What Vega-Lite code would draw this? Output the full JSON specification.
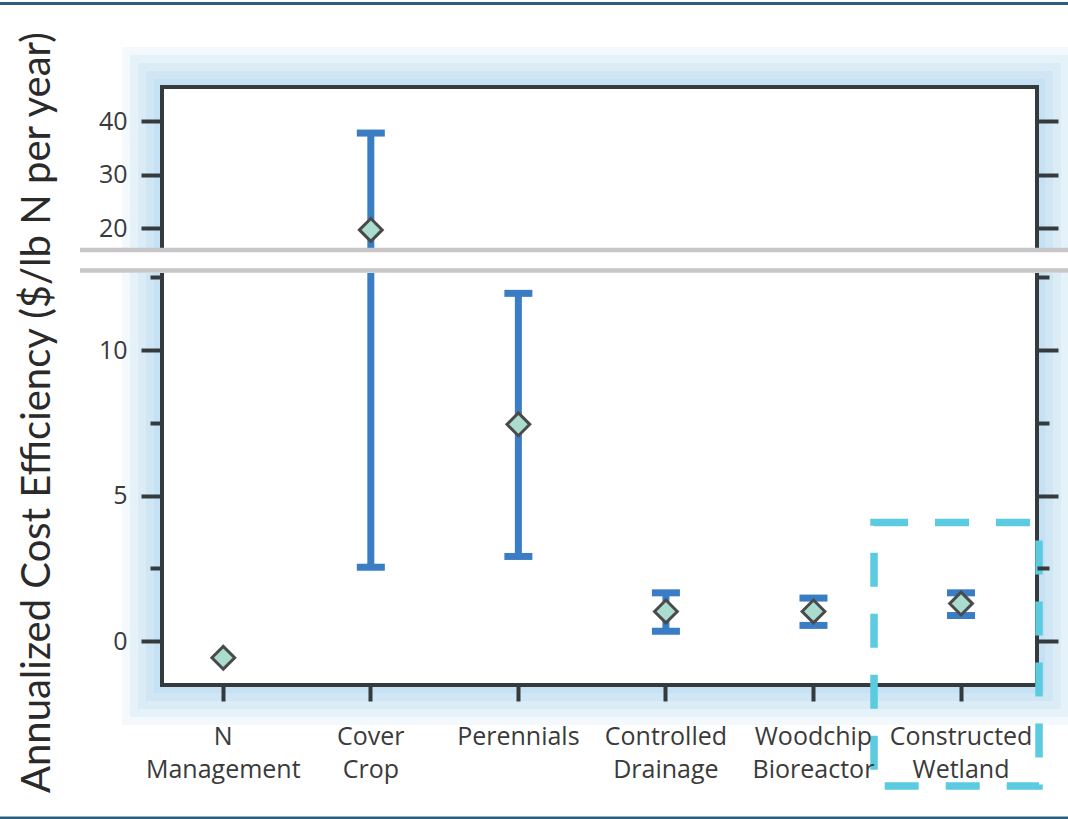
{
  "$schema": "https://vega.github.io/schema/vega-lite/v6.json",
  "width": 875,
  "height": 598,
  "autosize": {"type": "none"},
  "padding": {"left": 162, "top": 87, "right": 31, "bottom": 134},
  "background": "white",
  "config": {"view": {"stroke": null}},
  "datasets": {
    "practices": [
      {"practice": "N Management", "mean": -0.57},
      {"practice": "Cover Crop", "mean": 19.7, "low": 2.54, "high": 37.8},
      {"practice": "Perennials", "mean": 7.45, "low": 2.91, "high": 11.95},
      {"practice": "Controlled Drainage", "mean": 1.02, "low": 0.34, "high": 1.66},
      {"practice": "Woodchip Bioreactor", "mean": 1.02, "low": 0.54, "high": 1.48},
      {"practice": "Constructed Wetland", "mean": 1.29, "low": 0.88, "high": 1.66}
    ],
    "breakband": [{"top": 16.32, "bottom": 12.65}],
    "breaklines": [{"level": 15.94}, {"level": 12.735}],
    "borders": [{"level": 62.02}, {"level": -6.08}]
  },
  "resolve": {"axis": {"x": "independent", "y": "independent"}},
  "layer": [
    {"data": {"values": [{"part": "glow"}]}, "mark": {"type": "rect", "filled": false, "stroke": "#9fcdec", "strokeWidth": 80, "strokeOpacity": 0.12}, "encoding": {}},
    {"data": {"values": [{"part": "glow"}]}, "mark": {"type": "rect", "filled": false, "stroke": "#9fcdec", "strokeWidth": 64, "strokeOpacity": 0.14}, "encoding": {}},
    {"data": {"values": [{"part": "glow"}]}, "mark": {"type": "rect", "filled": false, "stroke": "#9fcdec", "strokeWidth": 48, "strokeOpacity": 0.16}, "encoding": {}},
    {"data": {"values": [{"part": "glow"}]}, "mark": {"type": "rect", "filled": false, "stroke": "#9fcdec", "strokeWidth": 32, "strokeOpacity": 0.18}, "encoding": {}},
    {"data": {"values": [{"part": "glow"}]}, "mark": {"type": "rect", "filled": false, "stroke": "#9fcdec", "strokeWidth": 16, "strokeOpacity": 0.2}, "encoding": {}},
    {"data": {"values": [{"part": "plot"}]}, "mark": {"type": "rect", "fill": "white", "strokeWidth": 0}, "encoding": {}},
    {"data": {"values": [{"part": "frame"}]}, "mark": {"type": "rect", "filled": false, "stroke": "#353b3d", "strokeWidth": 4}, "encoding": {}},
    {
      "data": {"name": "practices"},
      "mark": {"type": "rule", "color": "#3a7dc4", "strokeWidth": 7},
      "encoding": {
        "x": {"field": "practice", "type": "nominal", "sort": null, "axis": null,
          "scale": {"type": "band", "domain": ["N Management", "Cover Crop", "Perennials", "Controlled Drainage", "Woodchip Bioreactor", "Constructed Wetland"], "range": [-12.5, 872.8], "paddingInner": 0, "paddingOuter": 0}},
        "y": {"field": "low", "type": "quantitative",
          "scale": {"domain": [-1.507, 13.096, 14.075, 46.41], "range": [598, 173, 173, 0], "nice": false, "zero": false},
          "axis": {"orient": "right", "labels": false, "title": null, "domain": false, "grid": false, "zindex": 1,
            "values": [0, 2.5, 5, 7.5, 10, 12.5, 20, 30, 40],
            "tickColor": "#353b3d", "tickWidth": 4,
            "tickSize": {"condition": {"test": "datum.value % 5 === 0", "value": 21}, "value": 12}}},
        "y2": {"field": "high"}
      }
    },
    {
      "data": {"name": "practices"},
      "mark": {"type": "tick", "orient": "horizontal", "color": "#3a7dc4", "size": 28, "thickness": 7, "opacity": 1},
      "encoding": {
        "x": {"field": "practice", "type": "nominal", "sort": null, "axis": null,
          "scale": {"type": "band", "domain": ["N Management", "Cover Crop", "Perennials", "Controlled Drainage", "Woodchip Bioreactor", "Constructed Wetland"], "range": [-12.5, 872.8], "paddingInner": 0, "paddingOuter": 0}},
        "y": {"field": "low", "type": "quantitative", "axis": null,
          "scale": {"domain": [-1.507, 13.096, 14.075, 46.41], "range": [598, 173, 173, 0], "nice": false, "zero": false}}
      }
    },
    {
      "data": {"name": "practices"},
      "mark": {"type": "tick", "orient": "horizontal", "color": "#3a7dc4", "size": 28, "thickness": 7, "opacity": 1},
      "encoding": {
        "x": {"field": "practice", "type": "nominal", "sort": null, "axis": null,
          "scale": {"type": "band", "domain": ["N Management", "Cover Crop", "Perennials", "Controlled Drainage", "Woodchip Bioreactor", "Constructed Wetland"], "range": [-12.5, 872.8], "paddingInner": 0, "paddingOuter": 0}},
        "y": {"field": "high", "type": "quantitative", "axis": null,
          "scale": {"domain": [-1.507, 13.096, 14.075, 46.41], "range": [598, 173, 173, 0], "nice": false, "zero": false}}
      }
    },
    {
      "data": {"name": "practices"},
      "mark": {"type": "point", "shape": "diamond", "filled": true, "fill": "#aadcd0", "stroke": "#4a4a4a", "strokeWidth": 3, "size": 520, "opacity": 1},
      "encoding": {
        "x": {"field": "practice", "type": "nominal", "sort": null,
          "scale": {"type": "band", "domain": ["N Management", "Cover Crop", "Perennials", "Controlled Drainage", "Woodchip Bioreactor", "Constructed Wetland"], "range": [-12.5, 872.8], "paddingInner": 0, "paddingOuter": 0},
          "axis": {"orient": "bottom", "title": null, "domain": false, "grid": false, "zindex": 1, "labelAngle": 0,
            "tickColor": "#353b3d", "tickWidth": 4, "tickSize": 16, "labelPadding": 23,
            "labelFont": "Open Sans", "labelFontSize": 25, "labelColor": "#3a3a3a", "labelLineHeight": 33, "labelBaseline": "top",
            "labelExpr": "split(datum.label, ' ')"}},
        "y": {"field": "mean", "type": "quantitative",
          "scale": {"domain": [-1.507, 13.096, 14.075, 46.41], "range": [598, 173, 173, 0], "nice": false, "zero": false},
          "axis": {"orient": "left", "domain": false, "grid": false, "zindex": 1,
            "values": [0, 2.5, 5, 7.5, 10, 12.5, 20, 30, 40],
            "labelExpr": "datum.value % 5 === 0 ? datum.label : ''",
            "labelOverlap": false, "labelFlush": false, "labelBound": false,
            "labelFont": "Open Sans", "labelFontSize": 25, "labelColor": "#3a3a3a", "labelPadding": 14,
            "tickColor": "#353b3d", "tickWidth": 4,
            "tickSize": {"condition": {"test": "datum.value % 5 === 0", "value": 21}, "value": 12},
            "title": "Annualized Cost Efficiency ($/lb N per year)",
            "titleFont": "Lato", "titleFontSize": 40, "titleFontWeight": "normal", "titleColor": "#2a2a2a",
            "titleAngle": 270, "titleAlign": "center", "titleBaseline": "middle", "titleX": -125, "titleY": 325}}
      }
    },
    {
      "data": {"name": "breakband"},
      "mark": {"type": "rect", "fill": "white", "strokeWidth": 0, "xOffset": 32},
      "encoding": {
        "y": {"field": "top", "type": "quantitative", "axis": null,
          "scale": {"domain": [-1.507, 13.096, 14.075, 46.41], "range": [598, 173, 173, 0], "nice": false, "zero": false}},
        "y2": {"field": "bottom"}
      }
    },
    {
      "data": {"name": "breakband"},
      "mark": {"type": "rect", "fill": "white", "strokeWidth": 0, "xOffset": -957},
      "encoding": {
        "y": {"field": "top", "type": "quantitative", "axis": null,
          "scale": {"domain": [-1.507, 13.096, 14.075, 46.41], "range": [598, 173, 173, 0], "nice": false, "zero": false}},
        "y2": {"field": "bottom"}
      }
    },
    {
      "data": {"name": "breaklines"},
      "mark": {"type": "rule", "color": "#c8c6c8", "strokeWidth": 4.5, "xOffset": 32},
      "encoding": {
        "y": {"field": "level", "type": "quantitative", "axis": null,
          "scale": {"domain": [-1.507, 13.096, 14.075, 46.41], "range": [598, 173, 173, 0], "nice": false, "zero": false}}
      }
    },
    {
      "data": {"name": "breaklines"},
      "mark": {"type": "rule", "color": "#c8c6c8", "strokeWidth": 4.5, "xOffset": -957},
      "encoding": {
        "y": {"field": "level", "type": "quantitative", "axis": null,
          "scale": {"domain": [-1.507, 13.096, 14.075, 46.41], "range": [598, 173, 173, 0], "nice": false, "zero": false}}
      }
    },
    {
      "data": {"values": [{"practice": "Constructed Wetland", "top": 4.08, "bottom": -4.98}]},
      "mark": {"type": "rect", "filled": false, "stroke": "#5bcbe0", "strokeWidth": 7.5, "strokeDash": [34, 27], "width": 165, "xOffset": -4.5},
      "encoding": {
        "x": {"field": "practice", "type": "nominal", "sort": null, "axis": null,
          "scale": {"type": "band", "domain": ["N Management", "Cover Crop", "Perennials", "Controlled Drainage", "Woodchip Bioreactor", "Constructed Wetland"], "range": [-12.5, 872.8], "paddingInner": 0, "paddingOuter": 0}},
        "y": {"field": "top", "type": "quantitative", "axis": null,
          "scale": {"domain": [-1.507, 13.096, 14.075, 46.41], "range": [598, 173, 173, 0], "nice": false, "zero": false}},
        "y2": {"field": "bottom"}
      }
    },
    {
      "data": {"name": "borders"},
      "mark": {"type": "rule", "color": "#2b5f7d", "strokeWidth": 3, "xOffset": 31},
      "encoding": {
        "y": {"field": "level", "type": "quantitative", "axis": null,
          "scale": {"domain": [-1.507, 13.096, 14.075, 46.41], "range": [598, 173, 173, 0], "nice": false, "zero": false}}
      }
    },
    {
      "data": {"name": "borders"},
      "mark": {"type": "rule", "color": "#2b5f7d", "strokeWidth": 3, "xOffset": -1037},
      "encoding": {
        "y": {"field": "level", "type": "quantitative", "axis": null,
          "scale": {"domain": [-1.507, 13.096, 14.075, 46.41], "range": [598, 173, 173, 0], "nice": false, "zero": false}}
      }
    }
  ]
}
